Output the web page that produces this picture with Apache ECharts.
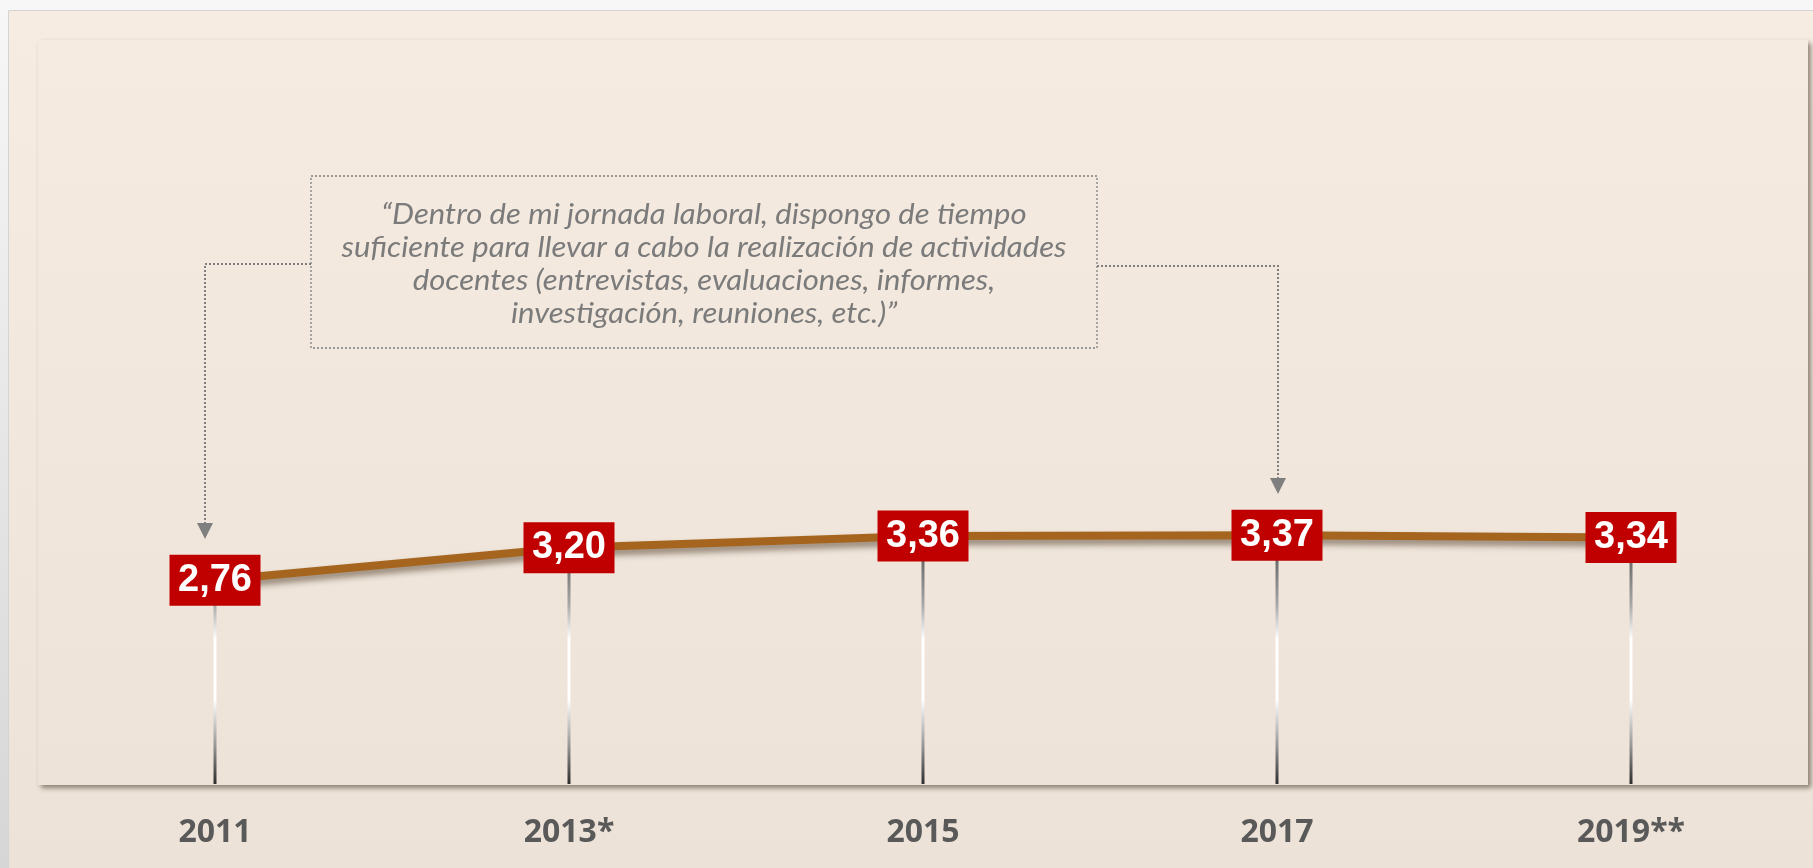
<!DOCTYPE html>
<html>
<head>
<meta charset="utf-8">
<script src="https://cdn.jsdelivr.net/npm/echarts@6/dist/echarts.min.js"></script>
<style>
html,body{margin:0;padding:0;background:#eeeeee;}
#chart{width:1813px;height:868px;}
</style>
</head>
<body>
<div id="chart"></div>
<script>
const years = ['2011', '2013*', '2015', '2017', '2019**'];
const values = [2.76, 3.20, 3.36, 3.37, 3.34];
const quoteLines = [
  '\u201CDentro de mi jornada laboral, dispongo de tiempo',
  'suficiente para llevar a cabo la realizaci\u00F3n de actividades',
  'docentes (entrevistas, evaluaciones, informes,',
  'investigaci\u00F3n, reuniones, etc.)\u201D'
];

const chart = echarts.init(document.getElementById('chart'));

const dropGradient = {
  type: 'linear', global: true, x: 0, y: 560, x2: 0, y2: 785,
  colorStops: [
    { offset: 0, color: '#6a6a6a' },
    { offset: 0.2, color: '#a8a8a8' },
    { offset: 0.35, color: '#ffffff' },
    { offset: 0.62, color: '#ffffff' },
    { offset: 0.82, color: '#9a9a9a' },
    { offset: 1, color: '#2b2b2b' }
  ]
};

const dotted = { stroke: '#7f7f7f', lineWidth: 2, lineDash: [2, 2] };

chart.setOption({
  animation: false,
  grid: { left: 38, right: 5, top: 46, bottom: 84 },
  xAxis: {
    type: 'category',
    data: years,
    boundaryGap: true,
    axisLine: { show: false },
    axisTick: { show: false },
    axisLabel: {
      margin: 33,
      fontFamily: 'Open Sans',
      fontWeight: 'bold',
      fontSize: 32,
      color: '#595959'
    }
  },
  yAxis: {
    type: 'value', min: 0, max: 10, show: false,
    splitLine: { show: false }
  },
  graphic: [
    {
      type: 'rect', z: -11, silent: true,
      shape: { x: 0, y: 0, width: 1813, height: 868 },
      style: {
        fill: {
          type: 'linear', x: 0, y: 0, x2: 0, y2: 1,
          colorStops: [{ offset: 0, color: '#f7f7f7' }, { offset: 1, color: '#d6d6d6' }]
        }
      }
    },
    {
      type: 'rect', z: -10, silent: true,
      shape: { x: 8.5, y: 10.5, width: 1810, height: 870 },
      style: {
        fill: {
          type: 'linear', x: 0, y: 0, x2: 0, y2: 1,
          colorStops: [{ offset: 0, color: '#f6ece2' }, { offset: 1, color: '#ece2d7' }]
        },
        stroke: '#d4d4d4', lineWidth: 1
      }
    },
    {
      type: 'rect', z: -9, silent: true,
      shape: { x: 38, y: 40, width: 1770, height: 745 },
      style: {
        fill: {
          type: 'linear', x: 0, y: 0, x2: 0, y2: 1,
          colorStops: [{ offset: 0, color: '#f5ebe1' }, { offset: 1, color: '#ede3d8' }]
        },
        shadowBlur: 5, shadowOffsetX: 3, shadowOffsetY: 3,
        shadowColor: 'rgba(60,45,30,0.55)'
      }
    },
    {
      type: 'rect', z: 50, silent: true,
      shape: { x: 311, y: 176, width: 786, height: 172 },
      style: { fill: 'transparent', stroke: '#808080', lineWidth: 1.3, lineDash: [2, 2] }
    },
    {
      type: 'text', z: 50, silent: true,
      x: 704, y: 264,
      scaleX: 1.11,
      style: {
        text: quoteLines.join('\n'),
        fontFamily: 'Lato',
        fontStyle: 'italic',
        fontSize: 28,
        lineHeight: 33,
        fill: '#7b7b7b',
        align: 'center',
        verticalAlign: 'middle'
      }
    },
    {
      type: 'polyline', z: 50, silent: true,
      shape: { points: [[311, 264], [205, 264], [205, 524]] },
      style: Object.assign({ fill: null }, dotted)
    },
    {
      type: 'polygon', z: 50, silent: true,
      shape: { points: [[197, 523], [213, 523], [205, 539]] },
      style: { fill: '#7f7f7f' }
    },
    {
      type: 'polyline', z: 50, silent: true,
      shape: { points: [[1097, 266], [1278, 266], [1278, 479]] },
      style: Object.assign({ fill: null }, dotted)
    },
    {
      type: 'polygon', z: 50, silent: true,
      shape: { points: [[1270, 478], [1286, 478], [1278, 494]] },
      style: { fill: '#7f7f7f' }
    }
  ],
  series: [
    {
      type: 'bar',
      data: values,
      barWidth: 3,
      silent: true,
      z: 1,
      itemStyle: { color: dropGradient }
    },
    {
      type: 'line',
      data: values,
      z: 3,
      silent: true,
      symbol: 'rect',
      symbolSize: [91, 51],
      itemStyle: { color: '#c00000' },
      lineStyle: {
        color: '#a6651f',
        width: 8,
        shadowColor: 'rgba(70,50,30,0.55)',
        shadowBlur: 6,
        shadowOffsetY: 5
      },
      label: {
        show: true,
        position: 'inside',
        color: '#ffffff',
        fontFamily: 'Liberation Sans',
        fontWeight: 'bold',
        fontSize: 38,
        formatter: p => p.value.toFixed(2).replace('.', ',')
      }
    }
  ]
});
</script>
</body>
</html>
